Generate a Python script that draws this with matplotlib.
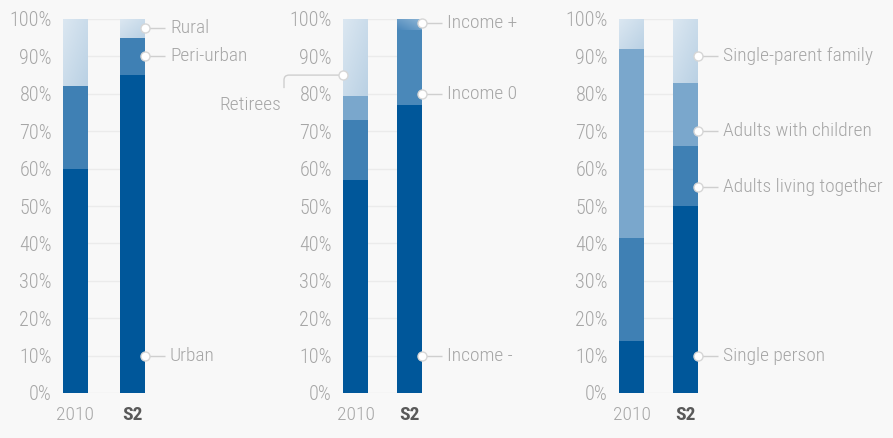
import numpy as np
import matplotlib
matplotlib.use("Agg")
import matplotlib.pyplot as plt
import matplotlib.transforms as mtransforms
from matplotlib.path import Path
from matplotlib.patches import PathPatch
from matplotlib.colors import LinearSegmentedColormap

plt.rcParams['font.family'] = ['Roboto Condensed', 'Liberation Sans Narrow', 'Roboto', 'DejaVu Sans']
plt.rcParams['font.weight'] = 'light'

# ---- data (shares in %, bottom -> top) ----
years = ["2010", "S2"]

area_names = ["Urban", "Peri-urban", "Rural"]
area_2010 = [60, 22, 18]
area_s2 = [85, 10, 5]
area_label_y = [10, 90, 97.5]

income_names = ["Income -", "Income 0", "Income +", "Retirees"]
income_2010 = [57, 16, 6.5, 20.5]
income_s2 = [77, 20, 3, 0]
income_label_y = [10, 80, 99, 85]

house_names = ["Single person", "Adults living together", "Adults with children", "Single-parent family"]
house_2010 = [14, 27.5, 50.5, 8]
house_s2 = [50, 16, 17, 17]
house_label_y = [10, 55, 70, 90]

# ---- style ----
BG = "#f8f8f8"
DARK = "#00579a"
MED = "#3f80b4"
LIGHT = "#7aa7cc"
PALE = ("#dbe7f1", "#bad1e4")
GRID = "#ebebeb"
TXT = "#a6a6a6"
LINE = "#cfcfcf"
FS = 14

W, H, DPI = 893, 438, 100
fig = plt.figure(figsize=(W / DPI, H / DPI), dpi=DPI, facecolor=BG)

Y0, Y1 = 393, 19  # pixel rows for 0% and 100%
BAR_PX = 25


def make_ax(left_px, width_px):
    ax = fig.add_axes([left_px / W, (H - Y0) / H, width_px / W, (Y0 - Y1) / H])
    ax.set_facecolor("none")
    bw = BAR_PX / (width_px - BAR_PX)
    for s in ax.spines.values():
        s.set_visible(False)
    ax.set_yticks(np.arange(0, 101, 10))
    ax.set_yticklabels([f"{v}%" for v in range(0, 101, 10)])
    ax.yaxis.grid(True, color=GRID, lw=1)
    ax.set_axisbelow(True)
    ax.tick_params(length=0, colors=TXT, labelsize=FS)
    ax.tick_params(axis="y", pad=8, labelsize=14.5)
    ax.tick_params(axis="x", pad=9.5)
    ax.set_xticks([0, 1])
    ax.set_xticklabels(years)
    xl = ax.get_xticklabels()
    xl[1].set_fontweight("bold")
    xl[1].set_color("#595959")
    return ax, bw


def gradient_fill(ax, rect, c1, c2, flip=False):
    cmap = LinearSegmentedColormap.from_list("g", [c1, c2])
    gx, gy = np.meshgrid(np.linspace(0, 1, 40), np.linspace(0, 1, 40))
    z = (gx + gy) / 2 if flip else (gx + (1 - gy)) / 2
    x0, y0 = rect.get_x(), rect.get_y()
    im = ax.imshow(z, cmap=cmap, extent=(x0, x0 + rect.get_width(), y0 + rect.get_height(), y0),
                   aspect="auto", interpolation="bilinear", zorder=2)
    im.set_clip_path(rect)
    rect.set_facecolor("none")


def stack(ax, bw, x, values, colors, gradients):
    bottom = 0
    for v, c, g in zip(values, colors, gradients):
        if v <= 0:
            continue
        r = ax.bar(x, v, bw, bottom=bottom, color=c, edgecolor="none", zorder=2)[0]
        if g is not None:
            gradient_fill(ax, r, *g)
        bottom += v
    ax.set_xlim(-bw / 2, 1 + bw / 2)
    ax.set_ylim(0, 100)


def marker(ax, x, y):
    ax.plot(x, y, "o", ms=6.5, mfc="white", mec="#d6d6d6", mew=1, zorder=4, clip_on=False)


def label(ax, x, y, text, dx=20, tx=25):
    off = mtransforms.ScaledTranslation(x, y, ax.transData)
    ax.add_patch(PathPatch(Path([(0, 0), (dx, 0)]), transform=mtransforms.IdentityTransform() + off,
                           color=LINE, lw=1, fill=False, zorder=3, clip_on=False))
    marker(ax, x, y)
    ax.text(x, y, text, transform=mtransforms.offset_copy(ax.transData, fig=fig, x=tx, y=0, units="dots"),
            ha="left", va="center", color=TXT, fontsize=FS)


# ---- panel 1: area ----
ax1, bw1 = make_ax(63, 82)
cols = [DARK, MED, LIGHT]
grads = [None, None, PALE]
stack(ax1, bw1, 0, area_2010, cols, grads)
stack(ax1, bw1, 1, area_s2, cols, grads)
for n, yv in zip(area_names, area_label_y):
    label(ax1, 1 + bw1 / 2, yv, n)

# ---- panel 2: income ----
ax2, bw2 = make_ax(343, 79)
stack(ax2, bw2, 0, income_2010, [DARK, MED, LIGHT, LIGHT], [None, None, None, PALE])
stack(ax2, bw2, 1, income_s2, [DARK, "#4a88b9", LIGHT, LIGHT],
      [None, None, ("#4a87ba", "#8fb6d6", True), None])
for n, yv in zip(income_names[:3], income_label_y[:3]):
    label(ax2, 1 + bw2 / 2, yv, n)

# retirees label on the left side
mx, my = -bw2 / 2, income_label_y[3]
off = mtransforms.ScaledTranslation(mx, my, ax2.transData)
verts = [(0, 0), (-54, 0), (-59, 0), (-59, -5), (-59, -13)]
codes = [Path.MOVETO, Path.LINETO, Path.CURVE3, Path.CURVE3, Path.LINETO]
ax2.add_patch(PathPatch(Path(verts, codes), transform=mtransforms.IdentityTransform() + off,
                        color=LINE, lw=1, fill=False, zorder=3, clip_on=False))
marker(ax2, mx, my)
ax2.text(mx, my, income_names[3],
         transform=mtransforms.offset_copy(ax2.transData, fig=fig, x=-62, y=-30, units="dots"),
         ha="right", va="center", color=TXT, fontsize=FS)

# ---- panel 3: households ----
ax3, bw3 = make_ax(619, 79)
cols3 = [DARK, MED, LIGHT, LIGHT]
grads3 = [None, None, None, PALE]
stack(ax3, bw3, 0, house_2010, cols3, grads3)
stack(ax3, bw3, 1, house_s2, cols3, grads3)
for n, yv in zip(house_names, house_label_y):
    label(ax3, 1 + bw3 / 2, yv, n)

fig.savefig("out.png", dpi=DPI, facecolor=BG)
